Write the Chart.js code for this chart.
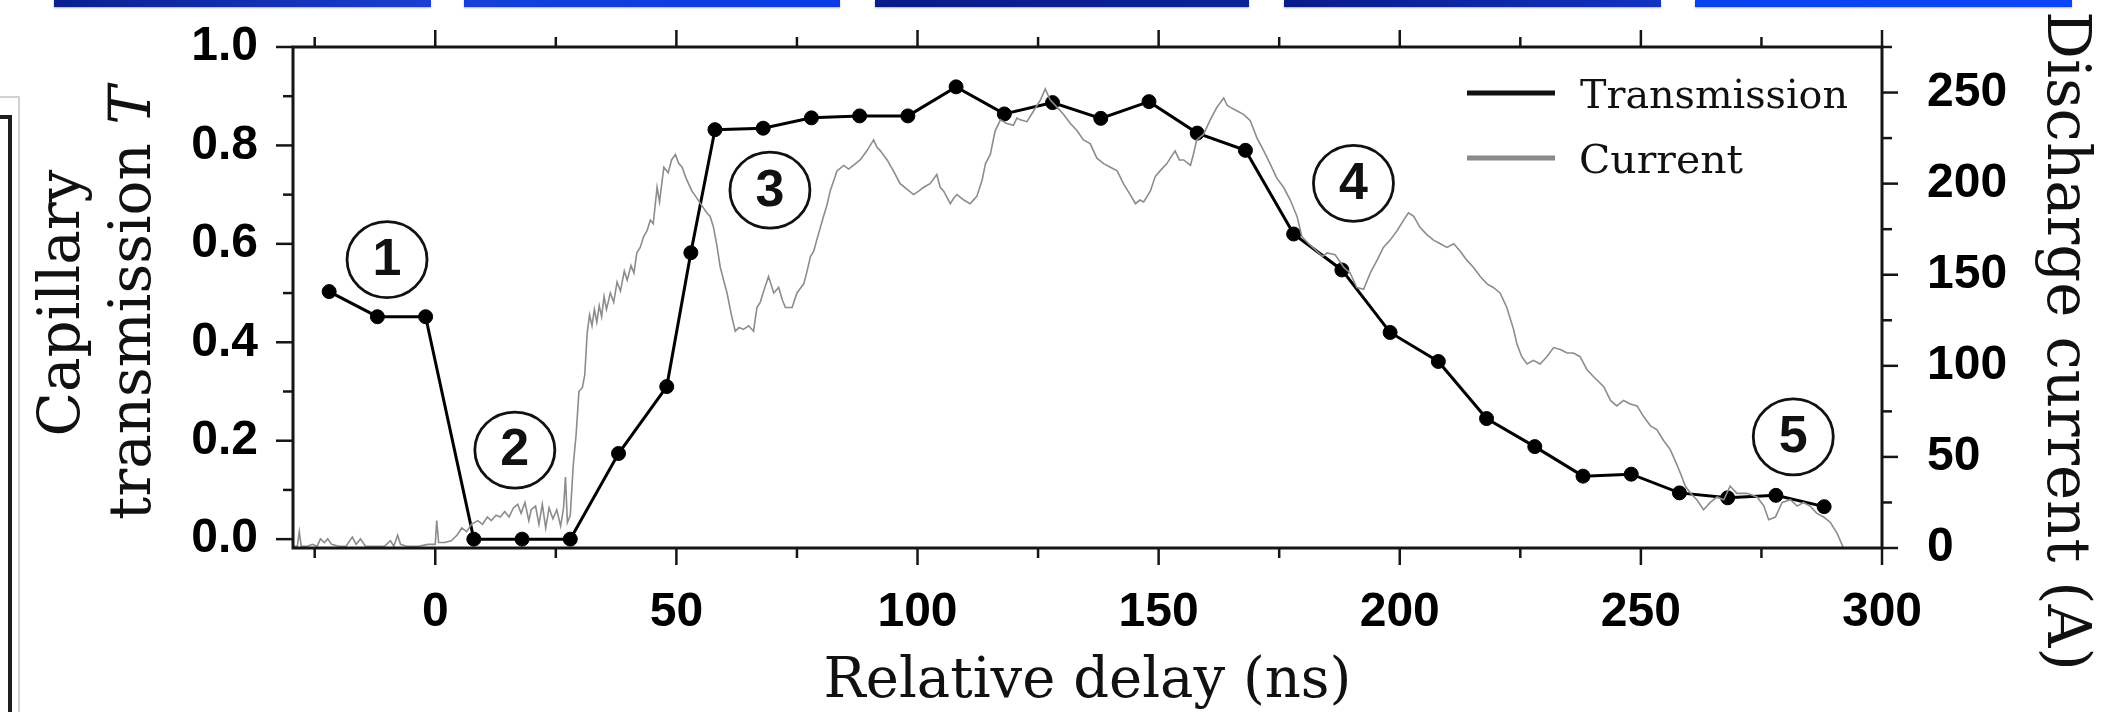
<!DOCTYPE html>
<html>
<head>
<meta charset="utf-8">
<script src="https://cdn.jsdelivr.net/npm/chart.js@4.4.1/dist/chart.umd.min.js"></script>
<style>
  html, body { margin: 0; padding: 0; background: #fff; }
  #wrap { position: relative; width: 2123px; height: 712px; overflow: hidden; background: #fff; }
  #chart { position: absolute; left: 0; top: 0; }
  .bar { position: absolute; top: 0; height: 7px; box-shadow: 0 1px 2px rgba(90, 100, 170, 0.55); }
  .box { position: absolute; box-sizing: border-box; }
</style>
</head>
<body>
<div id="wrap">
  <div class="bar" style="left:54px;width:377px;background:linear-gradient(90deg,#0b1f8e,#1b3fd2)"></div>
  <div class="bar" style="left:464px;width:376px;background:linear-gradient(90deg,#1540d8,#0a3be6)"></div>
  <div class="bar" style="left:875px;width:374px;background:linear-gradient(90deg,#0a1b8a,#0c2398)"></div>
  <div class="bar" style="left:1284px;width:377px;background:linear-gradient(90deg,#0a1b8a,#1232c0)"></div>
  <div class="bar" style="left:1695px;width:377px;background:linear-gradient(90deg,#0a42ee,#0c46f4)"></div>
  <div class="box" style="left:-10px;top:96px;width:30px;height:700px;border:2px solid #d2d2d2;"></div>
  <div class="box" style="left:-10px;top:115px;width:22px;height:700px;border:4px solid #1e1e1e;"></div>
  <canvas id="chart" width="2123" height="712"></canvas>
</div>
<script>
// Transmission measurements (left axis)
const delayNs = [-22, -12, -2, 8, 18, 28, 38, 48, 53, 58, 68, 78, 88, 98, 108, 118, 128, 138, 148,
  158, 168, 178, 188, 198, 208, 218, 228, 238, 248, 258, 268, 278, 288];
const transmission = [0.503, 0.452, 0.452, 0.0, 0.0, 0.0, 0.174, 0.31, 0.582, 0.832, 0.835, 0.856, 0.86,
  0.86, 0.919, 0.864, 0.887, 0.855, 0.889, 0.825, 0.79, 0.62, 0.547, 0.42, 0.361, 0.245, 0.188, 0.128,
  0.132, 0.094, 0.084, 0.089, 0.066];

// Discharge current trace (right axis)
const currentNs = [-29.5, -28.6, -28.2, -27.8, -26.5, -25.5, -24.5, -23.8, -23.0, -22.3, -21.5, -20.0,
  -18.5, -17.2, -16.4, -15.5, -14.5, -12.0, -10.5, -9.3, -8.6, -7.8, -7.2, -6.0, -3.5, -1.5, 0.0, 0.3,
  0.7, 2.0, 3.3, 4.5, 5.5, 6.5, 7.5, 8.8, 9.8, 10.8, 11.6, 12.6, 13.5, 14.4, 15.3, 16.2, 17.1, 17.8,
  18.6, 19.4, 19.9, 20.8, 21.5, 22.2, 22.9, 23.6, 24.4, 25.2, 26.0, 26.6, 27.0, 27.4, 28.0, 28.6, 29.2,
  29.8, 30.5, 31.0, 31.5, 32.0, 32.5, 33.0, 33.5, 34.0, 34.5, 35.0, 35.5, 36.3, 37.0, 37.7, 38.4, 39.2,
  39.8, 40.6, 41.2, 41.8, 42.5, 43.2, 43.9, 44.6, 45.2, 46.0, 46.5, 47.4, 48.3, 49.0, 49.8, 50.5, 51.2,
  52.0, 53.2, 54.0, 55.0, 56.3, 57.0, 57.7, 58.4, 59.1, 60.5, 61.4, 62.2, 63.0, 63.9, 65.0, 66.0, 66.7,
  67.4, 68.1, 69.1, 70.2, 71.2, 72.0, 72.6, 74.0, 75.0, 76.4, 77.1, 77.8, 78.5, 79.1, 80.5, 81.2, 81.9,
  83.3, 84.7, 85.7, 86.7, 88.1, 89.5, 90.9, 91.6, 92.3, 93.7, 95.0, 96.4, 97.8, 99.2, 100.3, 101.3,
  102.6, 104.0, 104.7, 105.4, 106.8, 107.5, 108.2, 109.6, 110.9, 112.3, 113.4, 114.1, 115.1, 116.1,
  117.2, 118.5, 119.9, 120.6, 121.3, 122.7, 124.1, 125.5, 126.5, 127.5, 128.9, 130.3, 131.7, 133.1,
  134.4, 135.8, 137.2, 138.6, 140.0, 141.4, 142.7, 144.1, 145.2, 146.1, 146.9, 148.3, 149.3, 150.3,
  151.7, 153.4, 154.3, 155.2, 156.6, 157.2, 157.9, 159.3, 160.7, 162.1, 163.5, 164.2, 164.8, 166.2,
  167.6, 169.0, 170.4, 171.8, 173.1, 174.5, 175.9, 177.3, 178.7, 179.7, 181.1, 182.8, 184.0, 184.9,
  186.6, 188.4, 189.7, 191.1, 192.5, 193.9, 195.3, 196.6, 198.0, 199.4, 200.8, 201.8, 202.9, 204.2,
  205.6, 207.0, 208.4, 209.8, 211.2, 212.5, 213.9, 215.3, 216.7, 218.1, 219.4, 220.8, 222.2, 223.6,
  224.3, 225.3, 226.4, 227.7, 229.1, 230.5, 231.9, 233.3, 234.7, 236.0, 237.4, 238.8, 240.2, 242.3,
  243.7, 245.0, 246.4, 247.8, 249.2, 250.6, 252.0, 253.3, 254.7, 256.1, 257.1, 258.2, 259.2, 260.3,
  261.6, 263.0, 264.4, 265.8, 267.2, 268.5, 269.9, 272.0, 274.1, 275.5, 276.5, 277.9, 279.3, 281.0,
  282.4, 283.7, 285.1, 286.5, 287.9, 289.3, 290.7, 292.0];
const currentA = [1, 1, 9, 1, 1, 2, 1, 5, 3, 5, 2, 1,
  1, 6, 2, 5, 1, 1, 1, 4, 1, 7, 2, 1, 1, 2, 2, 15,
  3, 3, 4, 7, 11, 9, 13, 15, 13, 17, 15, 18, 17, 20, 17, 22, 24, 19,
  25, 15, 21, 23, 13, 24, 11, 22, 16, 21, 12, 22, 39, 14, 18, 45, 62,
  86, 88, 95, 118, 128, 122, 131, 124, 133, 127, 138, 131, 140, 135, 146, 141, 152,
  147, 155, 151, 162, 165, 171, 174, 180, 178, 198, 190, 209, 206, 213, 216, 211, 209,
  203, 196, 193, 189, 184, 182, 176, 166, 154, 140, 128, 119, 121, 120, 122, 119, 132,
  135, 141, 149, 140, 143, 136, 132, 132, 140, 145, 152, 160, 163, 169, 182, 188, 196,
  207, 210, 208, 210, 213, 218, 224, 220, 218, 213, 207, 200, 197, 194, 196, 198,
  200, 205, 198, 196, 189, 192, 194, 191, 189, 193, 202, 211, 216, 229,
  235, 233, 232, 236, 235, 234, 240, 246, 252, 246, 242, 238, 233, 229,
  224, 222, 214, 211, 209, 207, 200, 194, 189, 191, 190, 196, 204, 207,
  211, 218, 213, 213, 210, 216, 224, 227, 235, 242, 247, 243, 242, 240,
  238, 234.5, 225, 218, 211, 203, 198, 191, 182, 171, 167, 163, 160, 162,
  161, 154, 151, 143, 142, 151, 158, 165, 169, 174, 180, 184, 182, 176,
  172, 169, 167, 165, 167, 163, 158, 154, 149, 145, 143, 140, 132, 120,
  112, 105, 101, 103, 101, 105, 110, 109, 107, 107, 105, 98, 94, 88.5,
  81, 78, 81, 79, 78, 72, 67, 65, 59, 54, 48, 41, 34, 30,
  26.5, 21, 25, 28, 26.5, 34, 30, 30, 28, 23, 15.5, 17, 25, 26.5,
  23, 25, 23, 19, 17, 14, 8, 0];

// Axis ticks
const xTicks = [0, 50, 100, 150, 200, 250, 300];
const xMinorTicks = [-25, 25, 75, 125, 175, 225, 275];
const yTicks = [0, 0.2, 0.4, 0.6, 0.8, 1.0];
const yMinorTicks = [0.1, 0.3, 0.5, 0.7, 0.9];
const y2Ticks = [0, 50, 100, 150, 200, 250];
const y2MinorTicks = [25, 75, 125, 175, 225, 275];

// Circled regime labels (x in ns, y in transmission units)
const regimes = [
  { label: '1', x: -10.0, y: 0.568 },
  { label: '2', x: 16.5, y: 0.181 },
  { label: '3', x: 69.4, y: 0.709 },
  { label: '4', x: 190.4, y: 0.723 },
  { label: '5', x: 281.6, y: 0.208 }
];

const serif = '"DejaVu Serif", "Liberation Serif", serif';
const sans = '"Liberation Sans", Arial, sans-serif';

// draw text squeezed/stretched to a given width
function fitText(ctx, text, x, y, width) {
  const w = ctx.measureText(text).width;
  ctx.save();
  ctx.translate(x, y);
  ctx.scale(width / w, 1);
  ctx.fillText(text, 0, 0);
  ctx.restore();
}

const decorPlugin = {
  id: 'decor',
  afterDraw(chart) {
    const ctx = chart.ctx;
    const a = chart.chartArea;
    const sx = chart.scales.x, sy = chart.scales.y, sy2 = chart.scales.y2;
    ctx.save();

    function seg(x1, y1, x2, y2) {
      ctx.beginPath(); ctx.moveTo(x1, y1); ctx.lineTo(x2, y2); ctx.stroke();
    }
    ctx.strokeStyle = '#151515';
    ctx.lineWidth = 2.5;
    xTicks.forEach(v => {
      const p = sx.getPixelForValue(v);
      seg(p, a.bottom, p, a.bottom + 17);
      seg(p, a.top, p, a.top - 17);
    });
    xMinorTicks.forEach(v => {
      const p = sx.getPixelForValue(v);
      seg(p, a.bottom, p, a.bottom + 10);
      seg(p, a.top, p, a.top - 10);
    });
    yTicks.forEach(v => { const p = sy.getPixelForValue(v); seg(a.left, p, a.left - 17, p); });
    yMinorTicks.forEach(v => { const p = sy.getPixelForValue(v); seg(a.left, p, a.left - 10, p); });
    y2Ticks.forEach(v => { const p = sy2.getPixelForValue(v); seg(a.right, p, a.right + 16, p); });
    y2MinorTicks.forEach(v => { const p = sy2.getPixelForValue(v); seg(a.right, p, a.right + 10, p); });

    // frame
    ctx.lineWidth = 3;
    ctx.strokeRect(a.left, a.top, a.right - a.left, a.bottom - a.top);

    // circled labels
    regimes.forEach(r => {
      const cx = sx.getPixelForValue(r.x), cy = sy.getPixelForValue(r.y);
      ctx.lineWidth = 2.8;
      ctx.strokeStyle = '#111';
      ctx.beginPath();
      ctx.ellipse(cx, cy, 40, 38, 0, 0, Math.PI * 2);
      ctx.stroke();
      ctx.fillStyle = '#111';
      ctx.font = 'bold 52px ' + sans;
      ctx.textAlign = 'center';
      ctx.textBaseline = 'middle';
      ctx.fillText(r.label, cx, cy + 1);
    });

    // legend
    ctx.lineCap = 'butt';
    ctx.lineWidth = 5;
    ctx.strokeStyle = '#111';
    seg(1467, 93, 1555, 93);
    ctx.strokeStyle = '#8a8a8a';
    seg(1467, 158, 1555, 158);
    ctx.fillStyle = '#111';
    ctx.font = '40px ' + serif;
    ctx.textAlign = 'left';
    ctx.textBaseline = 'alphabetic';
    fitText(ctx, 'Transmission', 1580, 108, 268);
    fitText(ctx, 'Current', 1579, 173, 164);

    // bottom title
    ctx.font = '56px ' + serif;
    ctx.textAlign = 'center';
    ctx.fillText('Relative delay (ns)', (a.left + a.right) / 2, 697);

    // left title, two lines, italic T
    const cy = 303;
    ctx.save();
    ctx.translate(79, cy);
    ctx.rotate(-Math.PI / 2);
    ctx.font = '58px ' + serif;
    ctx.textAlign = 'center';
    ctx.fillText('Capillary', 0, 0);
    ctx.restore();
    ctx.save();
    ctx.translate(150, cy);
    ctx.rotate(-Math.PI / 2);
    ctx.font = '58px ' + serif;
    const w1 = ctx.measureText('transmission ').width;
    ctx.font = 'italic 58px ' + serif;
    const w2 = ctx.measureText('T').width;
    const start = -(w1 + w2) / 2;
    ctx.textAlign = 'left';
    ctx.font = '58px ' + serif;
    ctx.fillText('transmission ', start, 0);
    ctx.font = 'italic 58px ' + serif;
    ctx.fillText('T', start + w1, 0);
    ctx.restore();

    // right title
    ctx.save();
    ctx.translate(2048, 341);
    ctx.rotate(Math.PI / 2);
    ctx.font = '59.5px ' + serif;
    ctx.textAlign = 'center';
    ctx.fillText('Discharge current (A)', 0, 0);
    ctx.restore();

    ctx.restore();
  }
};

const tickFont = { family: sans, size: 48, weight: 'bold' };

function noPad(s) {
  s.paddingTop = 0; s.paddingBottom = 0; s.paddingLeft = 0; s.paddingRight = 0;
}

new Chart(document.getElementById('chart'), {
  type: 'scatter',
  data: {
    datasets: [
      {
        label: 'Transmission',
        data: delayNs.map((d, i) => ({ x: d, y: transmission[i] })),
        yAxisID: 'y',
        showLine: true,
        borderColor: '#000',
        backgroundColor: '#000',
        borderWidth: 3,
        pointRadius: 7,
        pointBorderWidth: 1,
        pointHoverRadius: 7,
        tension: 0,
        order: 2
      },
      {
        label: 'Current',
        data: currentNs.map((d, i) => ({ x: d, y: currentA[i] })),
        yAxisID: 'y2',
        showLine: true,
        borderColor: '#8c8c8c',
        backgroundColor: '#8c8c8c',
        borderWidth: 1.6,
        pointRadius: 0,
        tension: 0,
        order: 1
      }
    ]
  },
  options: {
    responsive: false,
    animation: false,
    devicePixelRatio: 1,
    layout: { padding: { top: 47, left: 0, right: 0, bottom: 0 } },
    plugins: { legend: { display: false }, tooltip: { enabled: false } },
    scales: {
      x: {
        type: 'linear',
        position: 'bottom',
        min: -29.5,
        max: 300,
        grid: { display: false, drawTicks: false },
        border: { display: false },
        afterBuildTicks: s => { s.ticks = xTicks.map(v => ({ value: v })); },
        afterFit: s => { s.height = 164; noPad(s); },
        ticks: { font: tickFont, color: '#000', padding: 36, maxRotation: 0, autoSkip: false }
      },
      y: {
        type: 'linear',
        position: 'left',
        min: -0.018,
        max: 1.0,
        grid: { display: false, drawTicks: false },
        border: { display: false },
        afterBuildTicks: s => { s.ticks = yTicks.map(v => ({ value: v })); },
        afterFit: s => { s.width = 293; noPad(s); },
        ticks: { font: tickFont, color: '#000', padding: 35, callback: v => v.toFixed(1) }
      },
      y2: {
        type: 'linear',
        position: 'right',
        min: 0,
        max: 275,
        grid: { display: false, drawTicks: false },
        border: { display: false },
        afterBuildTicks: s => { s.ticks = y2Ticks.map(v => ({ value: v })); },
        afterFit: s => { s.width = 241; noPad(s); },
        ticks: { font: tickFont, color: '#000', padding: 45 }
      }
    }
  },
  plugins: [decorPlugin]
});
</script>
</body>
</html>
